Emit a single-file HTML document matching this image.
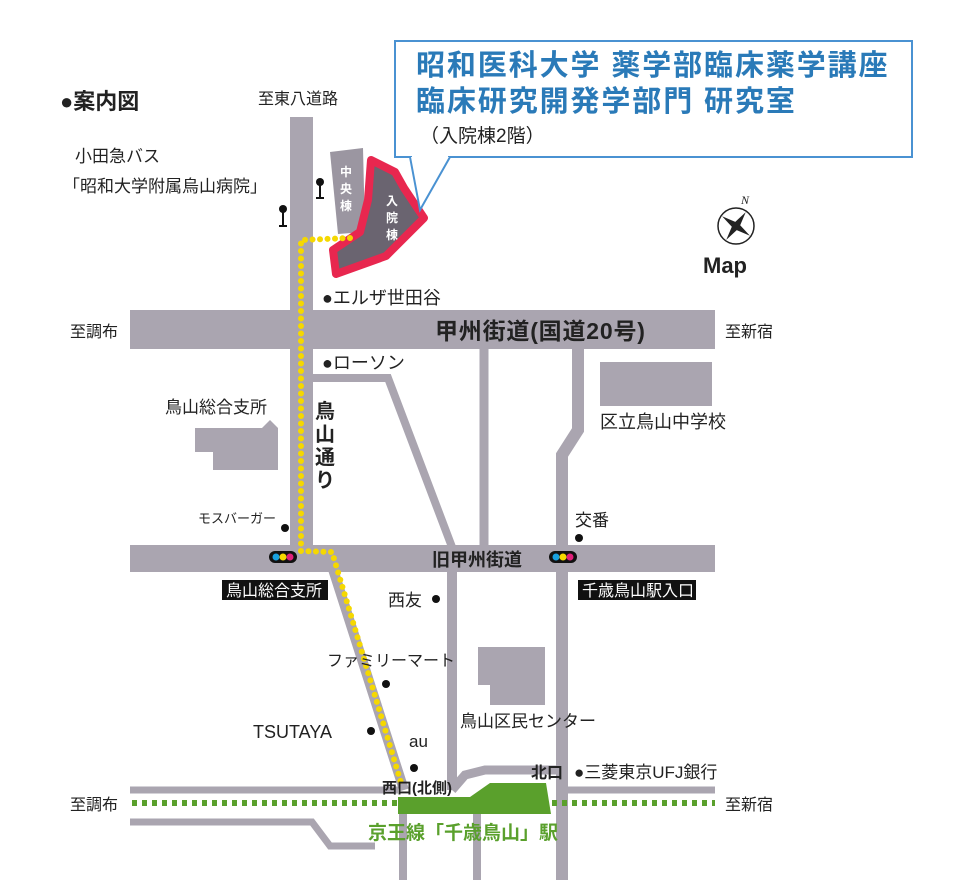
<!DOCTYPE html>
<html><head><meta charset="utf-8"><style>
html,body{margin:0;padding:0;background:#fff;}
svg{display:block;}
text{font-family:"Liberation Sans","Noto Sans CJK JP",sans-serif;fill:#222;}
.b{font-weight:bold;}
</style></head><body>
<svg width="958" height="889" viewBox="0 0 958 889" xmlns="http://www.w3.org/2000/svg">
<g fill="#aaa5b0" stroke="none">
<rect x="290" y="117" width="23" height="440"/>
<rect x="130" y="310" width="585" height="39"/>
<rect x="130" y="545" width="585" height="27"/>
<polygon points="195,428 262,428 270,420 278,428 278,470 213,470 213,452 195,452"/>
<rect x="600" y="362" width="112" height="44"/>
<polygon points="478,647 545,647 545,705 490,705 490,685 478,685"/>
<polygon points="330,152 363,148 365,232 338,234" fill="#9b96a1"/>
</g>
<g fill="none" stroke="#aaa5b0">
<polyline points="313,378 388,378 452,547" stroke-width="8"/>
<line x1="484" y1="349" x2="484" y2="547" stroke-width="9"/>
<polyline points="578,349 578,430 562,455 562,880" stroke-width="12"/>
<line x1="452" y1="572" x2="452" y2="790" stroke-width="10"/>
<polyline points="318,556 330,560 404,790" stroke-width="10"/>
<polyline points="452,790 465,775 485,770 560,770" stroke-width="9"/>
<line x1="130" y1="790" x2="398" y2="790" stroke-width="7"/>
<line x1="567" y1="790" x2="715" y2="790" stroke-width="7"/>
<polyline points="130,822 312,822 330,846 375,846" stroke-width="7"/>
<line x1="403" y1="812" x2="403" y2="880" stroke-width="8"/>
<line x1="477" y1="812" x2="477" y2="880" stroke-width="8"/>
</g>
<line x1="132" y1="803" x2="715" y2="803" stroke="#5aa02c" stroke-width="6" stroke-dasharray="5 5"/>
<polygon points="398,797 470,797 490,783 546,783 551,814 398,814" fill="#5aa02c"/>
<polygon points="371,160 395,172 404,188 424,218 386,256 336,274 333,250 360,232 368,200" fill="#6a6470" stroke="#e8274f" stroke-width="8" stroke-linejoin="round"/>
<text x="386" y="205" font-size="12" style="fill:#fff" class="b">入</text>
<text x="386" y="222" font-size="12" style="fill:#fff" class="b">院</text>
<text x="386" y="239" font-size="12" style="fill:#fff" class="b">棟</text>
<text x="340" y="176" font-size="12" style="fill:#fff" class="b">中</text>
<text x="340" y="193" font-size="12" style="fill:#fff" class="b">央</text>
<text x="340" y="210" font-size="12" style="fill:#fff" class="b">棟</text>
<polyline points="350,238 301,240 301,551 332,552 402,786" fill="none" stroke="#f5d800" stroke-width="6" stroke-linecap="round" stroke-dasharray="0 7.5"/>
<rect x="395" y="41" width="517" height="116" fill="#fff" stroke="#4a92d2" stroke-width="2"/>
<polyline points="410,157 420,210 450,157" fill="#fff" stroke="#4a92d2" stroke-width="2"/>
<line x1="412" y1="157" x2="448" y2="157" stroke="#fff" stroke-width="3"/>
<text x="416" y="75" font-size="29" letter-spacing="1.9" class="b" style="fill:#2a7ab8">昭和医科大学 薬学部臨床薬学講座</text>
<text x="416" y="111" font-size="29" letter-spacing="1.9" class="b" style="fill:#2a7ab8">臨床研究開発学部門 研究室</text>
<text x="420" y="142" font-size="19">（入院棟2階）</text>
<text x="60" y="109" font-size="22" class="b">●案内図</text>
<text x="258" y="104" font-size="16">至東八道路</text>
<text x="75" y="162" font-size="17">小田急バス</text>
<text x="63" y="192" font-size="17">「昭和大学附属烏山病院」</text>
<g stroke="#111" stroke-width="2"><line x1="283" y1="210" x2="283" y2="226"/><line x1="279" y1="226" x2="287" y2="226"/><line x1="320" y1="183" x2="320" y2="198"/><line x1="316" y1="198" x2="324" y2="198"/></g>
<circle cx="283" cy="209" r="4" fill="#111"/><circle cx="320" cy="182" r="4" fill="#111"/>
<g transform="translate(736,226)">
<circle r="18" fill="none" stroke="#222" stroke-width="1.5"/>
<g transform="rotate(35)"><polygon points="0,-17 3,-3 17,0 3,3 0,17 -3,3 -17,0 -3,-3" fill="#222"/></g>
<text x="5" y="-22" font-size="12" font-style="italic" style="font-family:'Liberation Serif',serif">N</text>
</g>
<text x="703" y="273" font-size="22" class="b">Map</text>
<text x="322" y="304" font-size="18">●エルザ世田谷</text>
<text x="70" y="337" font-size="16">至調布</text>
<text x="725" y="337" font-size="16">至新宿</text>
<text x="435" y="339" font-size="23" letter-spacing="0.8" class="b">甲州街道(国道20号)</text>
<text x="322" y="369" font-size="18">●ローソン</text>
<text x="165" y="413" font-size="17">鳥山総合支所</text>
<text x="600" y="428" font-size="18">区立鳥山中学校</text>
<text x="315" y="418" font-size="20" class="b">鳥</text>
<text x="315" y="441" font-size="20" class="b">山</text>
<text x="315" y="464" font-size="20" class="b">通</text>
<text x="315" y="487" font-size="20" class="b">り</text>
<text x="198" y="523" font-size="13">モスバーガー</text>
<circle cx="285" cy="528" r="4" fill="#111"/>
<text x="575" y="526" font-size="17">交番</text>
<circle cx="579" cy="538" r="4" fill="#111"/>
<text x="432" y="566" font-size="18" class="b">旧甲州街道</text>
<g><rect x="269" y="551" width="28" height="12" rx="6" fill="#111"/><circle cx="276" cy="557" r="3.5" fill="#18a0e0"/><circle cx="283" cy="557" r="3.5" fill="#f5d800"/><circle cx="290" cy="557" r="3.5" fill="#e0207a"/></g>
<g><rect x="549" y="551" width="28" height="12" rx="6" fill="#111"/><circle cx="556" cy="557" r="3.5" fill="#18a0e0"/><circle cx="563" cy="557" r="3.5" fill="#f5d800"/><circle cx="570" cy="557" r="3.5" fill="#e0207a"/></g>
<rect x="222" y="580" width="106" height="20" fill="#111"/>
<text x="226" y="596" font-size="16" style="fill:#fff">鳥山総合支所</text>
<rect x="578" y="580" width="118" height="20" fill="#111"/>
<text x="582" y="596" font-size="16" style="fill:#fff">千歳鳥山駅入口</text>
<text x="388" y="606" font-size="17">西友</text>
<circle cx="436" cy="599" r="4" fill="#111"/>
<text x="327" y="666" font-size="16">ファミリーマート</text>
<circle cx="386" cy="684" r="4" fill="#111"/>
<text x="460" y="727" font-size="17">鳥山区民センター</text>
<text x="253" y="738" font-size="18">TSUTAYA</text>
<circle cx="371" cy="731" r="4" fill="#111"/>
<text x="409" y="747" font-size="17">au</text>
<circle cx="414" cy="768" r="4" fill="#111"/>
<text x="382" y="793" font-size="15" class="b">西口(北側)</text>
<text x="531" y="778" font-size="16" class="b">北口</text>
<text x="574" y="778" font-size="17">●三菱東京UFJ銀行</text>
<text x="70" y="810" font-size="16">至調布</text>
<text x="725" y="810" font-size="16">至新宿</text>
<text x="368" y="839" font-size="19" class="b" style="fill:#5aa02c">京王線「千歳鳥山」駅</text>
</svg>
</body></html>
